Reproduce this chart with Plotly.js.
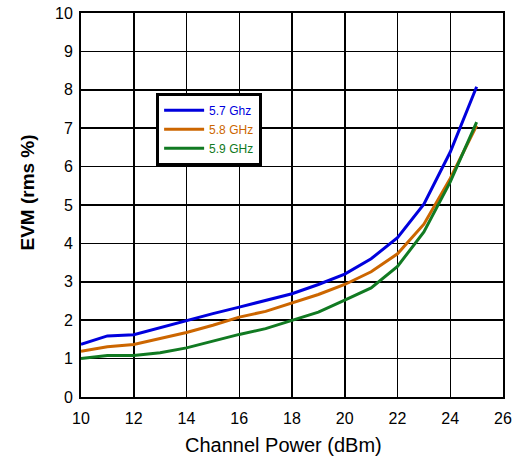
<!DOCTYPE html>
<html><head><meta charset="utf-8">
<script src="https://cdn.plot.ly/plotly-3.0.1.min.js"></script>
<style>body{margin:0;background:#fff}#c{width:516px;height:459px}</style>
</head><body><div id="c"></div>
<script>
const power = [10,11,12,13,14,15,16,17,18,19,20,21,22,23,24,25];
const evm57 = [1.37,1.59,1.62,1.81,2.0,2.17,2.34,2.52,2.69,2.93,3.2,3.6,4.15,5.02,6.38,8.08];
const evm58 = [1.19,1.31,1.37,1.52,1.68,1.87,2.08,2.23,2.45,2.67,2.93,3.26,3.73,4.5,5.69,7.07];
const evm59 = [1.0,1.08,1.08,1.15,1.28,1.46,1.63,1.78,2.0,2.21,2.52,2.84,3.4,4.3,5.6,7.16];
const names = ['5.7 Ghz','5.8 GHz','5.9 GHz'];
const colors = ['#0000dd','#cc6600','#117a22'];
const xTicks = [10,12,14,16,18,20,22,24,26];
const xTitle = 'Channel Power (dBm)';
const yTitle = 'EVM (rms %)';
const series = [evm57, evm58, evm59];
const traces = series.map((s,i)=>({
  x: power, y: s, type:'scatter', mode:'lines',
  name: '<span style="color:'+colors[i]+'">'+names[i]+'</span>',
  line:{color:colors[i], width:3}
}));
const axisCommon = {showgrid:true, gridcolor:'#000', gridwidth:1.5, showline:true, linecolor:'#000', linewidth:2, mirror:true, zeroline:false, ticks:'', tickfont:{size:16,color:'#000'}};
const layout = {
  width:516, height:459,
  margin:{l:81, r:13, t:13, b:62},
  paper_bgcolor:'#fff', plot_bgcolor:'#fff',
  font:{family:'Liberation Sans, Arial, sans-serif', color:'#000'},
  xaxis: Object.assign({}, axisCommon, {range:[10,26], tickvals:xTicks, ticklabelstandoff:6}),
  yaxis: Object.assign({}, axisCommon, {range:[0,10], dtick:1, ticklabelstandoff:3}),
  annotations:[
    {text:xTitle, xref:'paper', yref:'paper', x:0.481, y:-0.125, xanchor:'center', yanchor:'middle', showarrow:false, font:{size:20}},
    {text:'<b>'+yTitle+'</b>', xref:'paper', yref:'paper', x:-0.126, y:0.532, xanchor:'center', yanchor:'middle', textangle:-90, showarrow:false, font:{size:19}}
  ],
  showlegend:true,
  legend:{x:0.178, y:0.792, xanchor:'left', yanchor:'top', bgcolor:'#fff', bordercolor:'#000', borderwidth:3, font:{size:12}, tracegroupgap:0, itemwidth:40}
};
Plotly.newPlot('c', traces, layout, {displayModeBar:false, staticPlot:true});
</script></body></html>
